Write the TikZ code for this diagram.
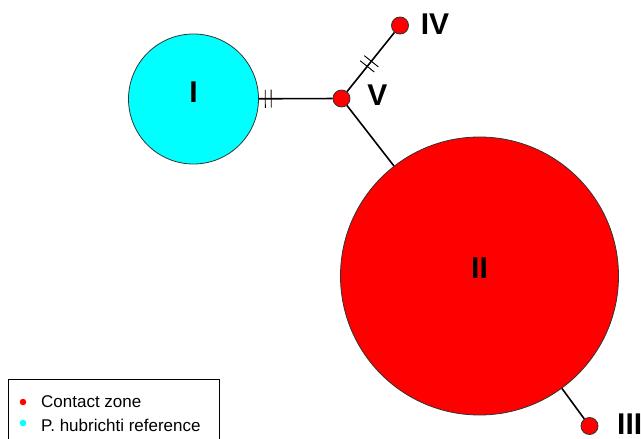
\documentclass[tikz,border=0pt]{standalone}
\usepackage{fontspec}
\setmainfont{Liberation Sans}
\usetikzlibrary{calc}
\definecolor{hred}{RGB}{255,0,0}
\definecolor{hcyan}{RGB}{0,255,255}
\begin{document}
\begin{tikzpicture}[x=1pt,y=-1pt,
  hap/.style={circle,draw=black!80,line width=0.8pt,inner sep=0pt},
  lab/.style={font=\fontsize{30}{30}\selectfont\bfseries,inner sep=0pt},
  link/.style={line width=1.6pt,black},
  tick/.style={line width=0.9pt,black},
  legtxt/.style={font=\fontsize{17}{17}\selectfont,inner sep=0pt,anchor=base west},
  legdot/.style={circle,inner sep=0pt,minimum size=6.5pt}]
\useasboundingbox (0,0) rectangle (641,439);
% haplotype circles
\node[hap,fill=hcyan,minimum size=130pt] (I) at (193.5,99) {};
\node[hap,fill=hred,minimum size=278pt] (II) at (479.5,276) {};
\node[hap,fill=hred,minimum size=17pt] (V) at (341.5,98.5) {};
\node[hap,fill=hred,minimum size=17pt] (IV) at (400,25.5) {};
\node[hap,fill=hred,minimum size=17pt] (III) at (589.5,426) {};
% connectors
\draw[link] (I) -- (V);
\draw[link] (V) -- (IV);
\draw[link] (V) -- (II);
\draw[link] (II) -- (III);
% mutation ticks
\coordinate (a1) at ($(I)!0.485!(V)$);
\coordinate (a2) at ($(I)!0.525!(V)$);
\draw[tick] ($(a1)!9pt!90:(V)$) -- ($(a1)!9pt!-90:(V)$);
\draw[tick] ($(a2)!9pt!90:(V)$) -- ($(a2)!9pt!-90:(V)$);
\coordinate (b1) at ($(V)!0.44!(IV)$);
\coordinate (b2) at ($(V)!0.51!(IV)$);
\draw[tick] ($(b1)!9pt!90:(IV)$) -- ($(b1)!9pt!-90:(IV)$);
\draw[tick] ($(b2)!9pt!90:(IV)$) -- ($(b2)!9pt!-90:(IV)$);
% labels
\node[lab] (lI) at (193.5,92) {I};
\node[lab] (lII) at (479.5,268) {II};
\node[lab] (lV) at (377.5,95) {V};
\node[lab] (lIV) at (435,24) {IV};
\node[lab,anchor=west] (lIII) at (617,424) {III};
% legend
\draw[line width=0.8pt,black] (8,379) rectangle (219,445);
\node[legdot,fill=hred] (d1) at (23,402) {};
\node[legdot,fill=hcyan] (d2) at (23,423) {};
\node[legtxt] (t1) at (41,407.5) {Contact zone};
\node[legtxt] (t2) at (41,431.5) {P. hubrichti reference};
\end{tikzpicture}
\end{document}
